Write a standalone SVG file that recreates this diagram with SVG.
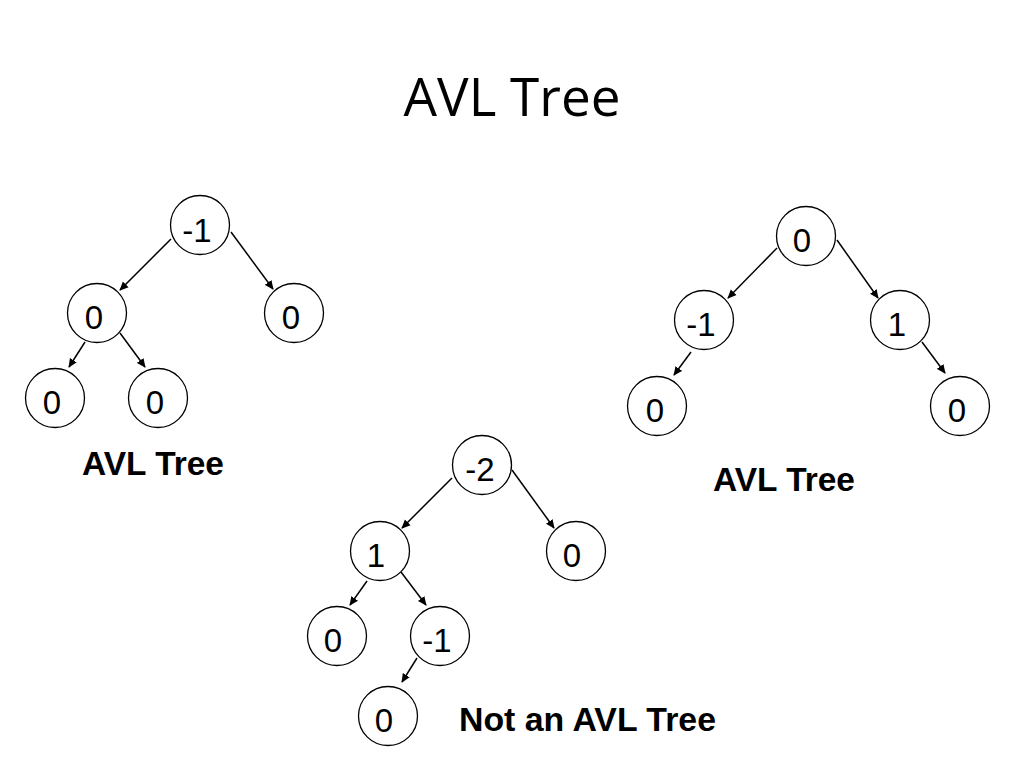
<svg xmlns="http://www.w3.org/2000/svg" width="1024" height="768" viewBox="0 0 1024 768">
<defs>
<style>
.n{fill:#fff;stroke:#000;stroke-width:1.3}
.t{font-family:"Liberation Sans",Arial,sans-serif;font-size:33px;text-anchor:middle;fill:#000}
.e{stroke:#000;stroke-width:1.5;fill:none;marker-end:url(#ah)}
.lb{font-family:"Liberation Sans",Arial,sans-serif;font-size:34px;font-weight:bold;fill:#000}
</style>
<marker id="ah" viewBox="0 0 10 10" refX="9" refY="5" markerWidth="9" markerHeight="9" markerUnits="userSpaceOnUse" orient="auto">
<path d="M0,0.5 L10,5 L0,9.5 z" fill="#000"/>
</marker>
</defs>
<rect width="1024" height="768" fill="#fff"/>
<text x="512" y="116" font-family="'Open Sans','Noto Sans',sans-serif" font-size="53" text-anchor="middle" fill="#000">AVL Tree</text>

<g id="connectors">
<line class="e" x1="171" y1="239" x2="120" y2="290"/>
<line class="e" x1="231" y1="232" x2="273" y2="289"/>
<line class="e" x1="85" y1="342" x2="69" y2="367"/>
<line class="e" x1="120" y1="333" x2="145" y2="367"/>
<line class="e" x1="777" y1="248" x2="728" y2="298"/>
<line class="e" x1="837" y1="240" x2="878" y2="298"/>
<line class="e" x1="691" y1="352" x2="674" y2="375"/>
<line class="e" x1="922" y1="342" x2="945" y2="373"/>
<line class="e" x1="452" y1="478" x2="402" y2="528"/>
<line class="e" x1="512" y1="470" x2="554" y2="528"/>
<line class="e" x1="367" y1="581" x2="350" y2="605"/>
<line class="e" x1="401" y1="572" x2="426" y2="605"/>
<line class="e" x1="417" y1="658" x2="402" y2="682"/>
</g>

<g id="t1-root"><circle class="n" cx="200" cy="225" r="29.5"/><text class="t" x="197" y="242">-1</text></g>
<g id="t1-l"><circle class="n" cx="97" cy="313" r="29.5"/><text class="t" x="94" y="329">0</text></g>
<g id="t1-r"><circle class="n" cx="294" cy="313" r="29.5"/><text class="t" x="291" y="329">0</text></g>
<g id="t1-ll"><circle class="n" cx="55" cy="398" r="29.5"/><text class="t" x="52" y="414">0</text></g>
<g id="t1-lr"><circle class="n" cx="158" cy="398" r="29.5"/><text class="t" x="155" y="414">0</text></g>
<g id="t1-label"><text class="lb" x="82" y="475" textLength="142" lengthAdjust="spacingAndGlyphs">AVL Tree</text></g>

<g id="t2-root"><circle class="n" cx="806" cy="236" r="29.5"/><text class="t" x="802" y="252">0</text></g>
<g id="t2-l"><circle class="n" cx="704" cy="320" r="29.5"/><text class="t" x="701" y="336">-1</text></g>
<g id="t2-r"><circle class="n" cx="900" cy="320" r="29.5"/><text class="t" x="897" y="336">1</text></g>
<g id="t2-ll"><circle class="n" cx="657" cy="406" r="29.5"/><text class="t" x="655" y="422">0</text></g>
<g id="t2-rr"><circle class="n" cx="960" cy="406" r="29.5"/><text class="t" x="957" y="422">0</text></g>
<g id="t2-label"><text class="lb" x="713" y="491" textLength="142" lengthAdjust="spacingAndGlyphs">AVL Tree</text></g>

<g id="t3-root"><circle class="n" cx="482" cy="465" r="29.5"/><text class="t" x="480" y="481">-2</text></g>
<g id="t3-l"><circle class="n" cx="380" cy="551" r="29.5"/><text class="t" x="376" y="567">1</text></g>
<g id="t3-r"><circle class="n" cx="576" cy="551" r="29.5"/><text class="t" x="572" y="567">0</text></g>
<g id="t3-ll"><circle class="n" cx="337" cy="636" r="29.5"/><text class="t" x="333" y="652">0</text></g>
<g id="t3-lr"><circle class="n" cx="440" cy="636" r="29.5"/><text class="t" x="437" y="652">-1</text></g>
<g id="t3-lrl"><circle class="n" cx="388" cy="716" r="29.5"/><text class="t" x="384" y="732">0</text></g>
<g id="t3-label"><text class="lb" x="459" y="731" textLength="257" lengthAdjust="spacingAndGlyphs">Not an AVL Tree</text></g>
</svg>
